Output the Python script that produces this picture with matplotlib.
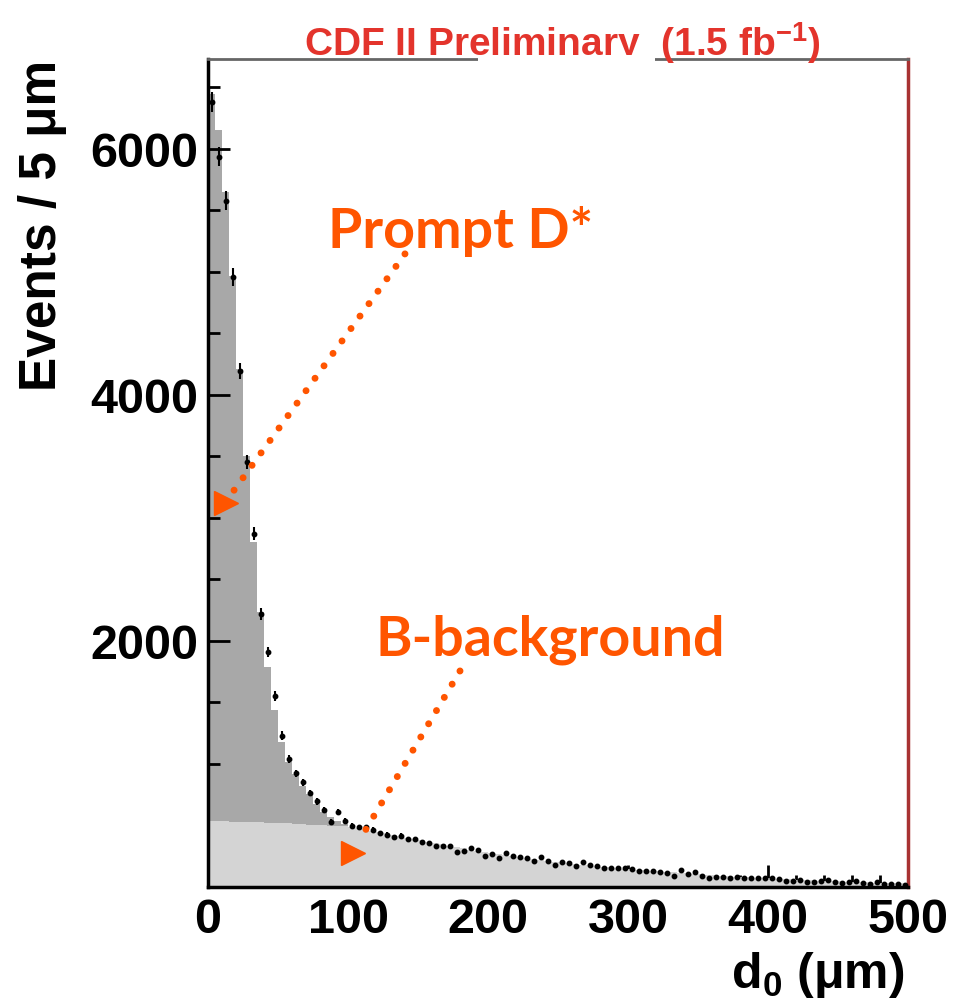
import matplotlib.pyplot as plt
import numpy as np
from matplotlib.ticker import MultipleLocator
from matplotlib.patches import Rectangle

plt.rcParams['font.family'] = ['Liberation Sans', 'DejaVu Sans']
plt.rcParams['font.weight'] = 'bold'
plt.rcParams['mathtext.fontset'] = 'custom'
plt.rcParams['mathtext.rm'] = 'Liberation Sans:bold'
plt.rcParams['mathtext.default'] = 'rm'

# d0 bins, 5 um wide, 0..500
edges = np.arange(0, 505, 5)
centers = edges[:-1] + 2.5

# data points (events / 5 um)
data = [6382, 5935, 5579, 4959, 4197, 3455, 2870, 2220, 1911, 1555,
        1230, 1041, 923, 850, 764, 696, 628, 531, 612, 539,
        498, 485, 485, 466, 436, 423, 403, 417, 390, 390,
        363, 354, 335, 330, 330, 286, 295, 317, 303, 249,
        268, 233, 276, 254, 246, 236, 213, 241, 213, 180,
        200, 195, 168, 200, 180, 168, 151, 151, 151, 151,
        146, 133, 133, 133, 124, 114, 87, 141, 106, 124,
        91, 73, 83, 78, 73, 78, 73, 73, 73, 73,
        73, 65, 51, 46, 59, 38, 42, 46, 59, 38,
        30, 38, 51, 33, 24, 42, 24, 24, 24, 16]

# B background component of the fit
bkg = [535, 534, 533, 532, 531, 530, 528, 526, 524, 522,
       520, 517, 514, 511, 508, 505, 502, 499, 495, 492,
       488, 478, 468, 457, 446, 435, 424, 413, 402, 391,
       380, 369, 358, 347, 336, 325, 314, 304, 294, 284,
       275, 266, 258, 250, 242, 235, 228, 221, 214, 207,
       200, 194, 188, 182, 176, 170, 165, 160, 155, 150,
       145, 140, 135, 130, 126, 122, 118, 114, 110, 106,
       102, 98, 94, 91, 88, 85, 82, 79, 76, 73,
       70, 67, 64, 61, 58, 56, 54, 52, 50, 48,
       46, 44, 42, 40, 38, 36, 35, 34, 33, 32]

# prompt D* component (first 20 bins, zero afterwards)
prompt = [5912, 5615, 5117, 4438, 3680, 2976, 2277, 1710, 1265, 914,
          659, 499, 405, 313, 248, 170, 108, 70, 44, 20]

data = np.array(data)
bkg = np.array(bkg)
prompt_full = np.zeros(len(bkg))
prompt_full[:len(prompt)] = prompt
total = bkg + prompt_full

W, H = 971, 1004
fig = plt.figure(figsize=(W / 100, H / 100), dpi=100)
ax = fig.add_axes([208 / W, 1 - 888 / H, 700 / W, 828 / H])

ax.stairs(total, edges, fill=True, color='#a8a8a8', zorder=1)
ax.stairs(bkg, edges, fill=True, color='#d4d4d4', zorder=2)
ax.errorbar(centers, data, yerr=np.sqrt(data), fmt='o', ms=3.2, color='black',
            elinewidth=1.5, capsize=0, zorder=3)

ax.set_xlim(0, 500)
ax.set_ylim(0, 6730)
ax.set_xticks([0, 100, 200, 300, 400, 500])
ax.set_yticks([2000, 4000, 6000])
ax.xaxis.set_minor_locator(MultipleLocator(20))
ax.yaxis.set_minor_locator(MultipleLocator(500))
ax.tick_params(which='both', direction='in', width=2, labelsize=35, pad=7)
ax.tick_params(which='major', length=16)
ax.tick_params(which='minor', length=8.5)
for lab in ax.get_xticklabels() + ax.get_yticklabels():
    lab.set_fontweight('bold')

for s in ['left', 'bottom']:
    ax.spines[s].set_linewidth(2.5)
ax.spines['top'].set_color('#666666')
ax.spines['top'].set_linewidth(2)
ax.spines['right'].set_color('#a83232')
ax.spines['right'].set_linewidth(2.5)

# annotations
orange = '#ff5500'
ax.text(85.7, 5203, 'Prompt D*', color=orange, fontsize=40, family='Lato',
        weight='bold', va='baseline', zorder=5)
ax.text(119.3, 1886, 'B-background', color=orange, fontsize=40, family='Lato',
        weight='bold', va='baseline', zorder=5)
dots = (0, (0.01, 2.2))
ax.plot([140.7, 18.1], [5146, 3217], linestyle=dots, lw=5, color=orange,
        dash_capstyle='round', zorder=5)
ax.plot([12.6], [3120], marker='>', ms=17, color=orange, zorder=5, clip_on=False)
ax.plot([180, 110.5], [1756, 424], linestyle=dots, lw=5, color=orange,
        dash_capstyle='round', zorder=5)
ax.plot([103.5], [277], marker='>', ms=17, color=orange, zorder=5)

# axis titles
fig.text(43 / W, 1 - 225 / H, 'Events / 5 μm', rotation=90, ha='center',
         va='center', fontsize=37, weight='bold')
fig.text(905 / W, 1 - 1000 / H, 'd$_0$ (μm)', ha='right', va='bottom',
         fontsize=36, weight='bold')

fig.text(562 / W, 1 - 56 / H, 'CDF II Preliminary  (1.5 fb$^{-1}$)',
         ha='center', va='baseline', color='#e3342c', fontsize=28,
         weight='bold', zorder=3)
fig.add_artist(Rectangle((478 / W, 1 - 68 / H), 177 / W, 12 / H,
                         transform=fig.transFigure, facecolor='white',
                         edgecolor='none', zorder=10))

fig.savefig('out.png', dpi=100)
